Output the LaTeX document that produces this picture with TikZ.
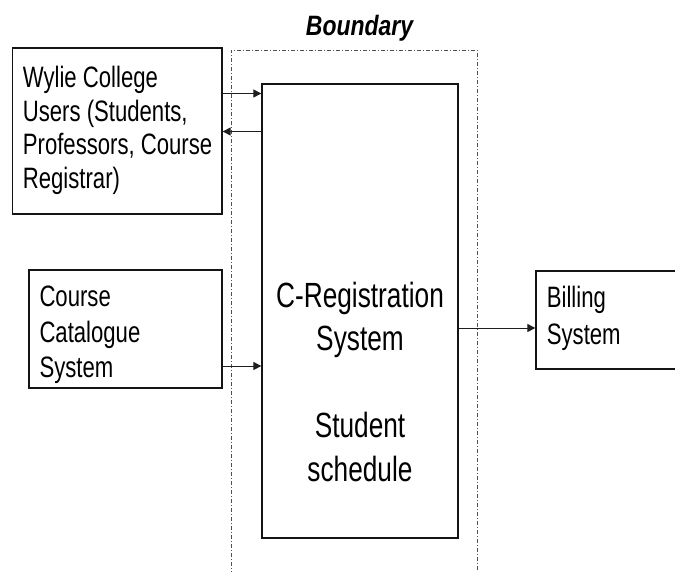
\documentclass[tikz,border=0pt]{standalone}
\usepackage{fontspec}
\usetikzlibrary{arrows.meta}
\newfontfamily\narrowsans[FakeStretch=0.75]{Liberation Sans}
\newfontfamily\titlesans[FakeStretch=0.82]{Liberation Sans}
\newcommand\linesl[1]{\begin{tabular}[t]{@{}l@{}}#1\end{tabular}}
\newcommand\linesc[1]{\begin{tabular}[t]{@{}c@{}}#1\end{tabular}}
\definecolor{edge}{RGB}{20,20,20}
\definecolor{wire}{RGB}{30,30,30}
\definecolor{limit}{RGB}{80,80,80}
\tikzset{
  box/.style={draw=edge, line width=1.3pt, rectangle, inner sep=0pt, fill=white},
  label/.style={inner sep=0pt, anchor=base west, text=black},
  flow/.style={draw=wire, line width=1pt, -{Triangle[length=8pt,width=8pt]}},
  limitline/.style={draw=limit, line width=0.9pt, dash pattern=on 4pt off 2pt on 1pt off 2pt}
}
\begin{document}
\begin{tikzpicture}[x=1pt, y=-1pt]
\useasboundingbox (0,0) rectangle (675,571);

% system boundary (open at the bottom)
\draw[limitline] (231,575) -- (231,50) -- (477,50) -- (477,575);
\node[inner sep=0pt, anchor=base, font=\titlesans\bfseries\itshape\fontsize{28}{32}\selectfont]
  (title) at (359.5,35) {Boundary};

% boxes
\node[box, minimum width=209.3pt, minimum height=166pt] (wylie) at (117.35,131) {};
\node[box, minimum width=193pt, minimum height=118pt] (catalogue) at (125.5,329) {};
\node[box, minimum width=196pt, minimum height=454pt] (sys) at (360,311) {};
\node[box, minimum width=140pt, minimum height=98pt] (billing) at (606,320) {};

% box texts
\node[label, font=\narrowsans\fontsize{29.5}{33.5}\selectfont] (wylietext) at (22.7,87.7)
  {\linesl{Wylie College\\Users (Students,\\Professors, Course\\Registrar)}};
\node[label, font=\narrowsans\fontsize{29.5}{35.5}\selectfont] (catalogtext) at (39.3,306.7)
  {\linesl{Course\\Catalogue\\System}};
\node[label, font=\narrowsans\fontsize{29.5}{37}\selectfont] (billingtext) at (546.7,307)
  {\linesl{Billing\\System}};
\node[inner sep=0pt, anchor=base, font=\narrowsans\fontsize{35}{43.6}\selectfont] (systext) at (360,307)
  {\linesc{C-Registration\\System\\ \\Student\\schedule}};

% flows
\draw[flow] (wylie.east |- 0,93.5) -- (sys.west |- 0,93.5);
\draw[flow] (sys.west |- 0,131.5) -- (wylie.east |- 0,131.5);
\draw[flow] (catalogue.east |- 0,366) -- (sys.west |- 0,366);
\draw[flow] (sys.east |- 0,328) -- (billing.west |- 0,328);
\end{tikzpicture}
\end{document}
